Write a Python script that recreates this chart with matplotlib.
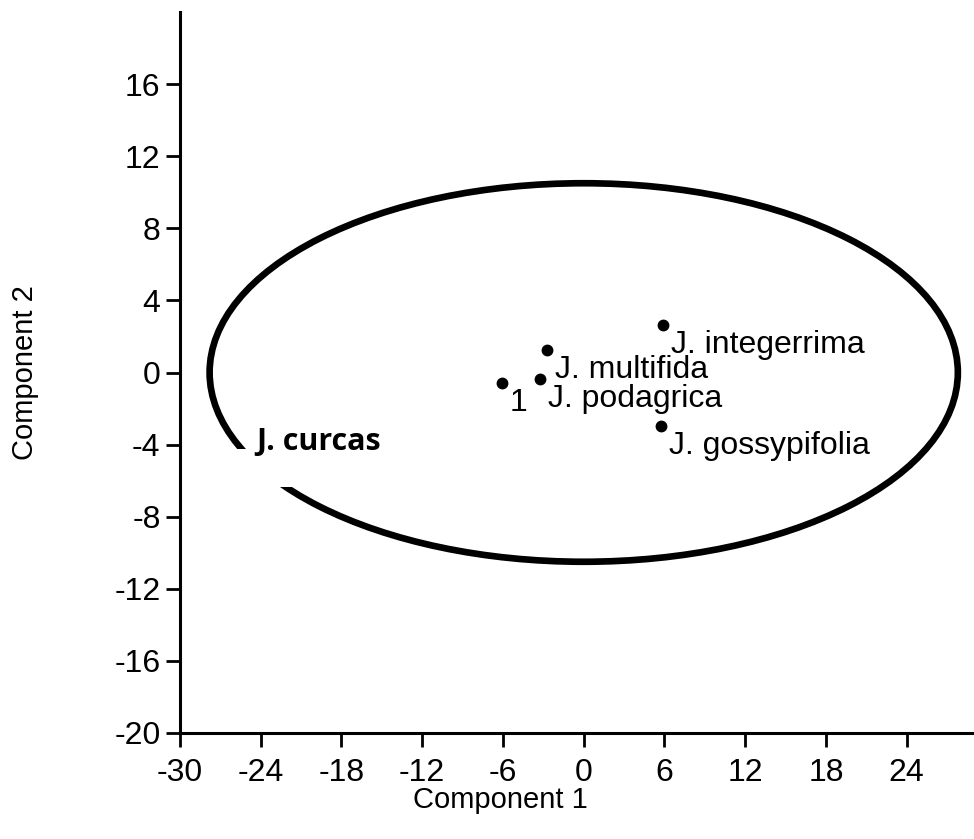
import matplotlib
matplotlib.use("Agg")
import matplotlib.pyplot as plt
from matplotlib.patches import Ellipse, Rectangle

# species scores on the first two components
labels = ["J. integerrima", "J. multifida", "J. podagrica", "1", "J. gossypifolia"]
comp1 = [5.86, -2.75, -3.27, -6.09, 5.72]
comp2 = [2.63, 1.25, -0.36, -0.58, -2.97]

# confidence ellipse (center, full width, full height)
ell_center = (0.0, 0.0)
ell_width = 55.6
ell_height = 21.0

# outlier label
curcas_label = "J. curcas"
curcas_pos = (-24.3, -4.3)

xticks = [-30, -24, -18, -12, -6, 0, 6, 12, 18, 24]
yticks = [-20, -16, -12, -8, -4, 0, 4, 8, 12, 16]

plt.rcParams['font.family'] = ['Liberation Sans', 'DejaVu Sans']
plt.rcParams['axes.unicode_minus'] = False

fig = plt.figure(figsize=(9.74, 8.39), dpi=100)
ax = fig.add_axes([180 / 974, 106 / 839, 794 / 974, 721 / 839])

ax.add_patch(Ellipse(ell_center, ell_width, ell_height, fill=False,
                     edgecolor='black', linewidth=4.8, zorder=2))

ax.plot(comp1, comp2, 'o', color='black', markersize=7.5, zorder=3)
for lab, x, y in zip(labels, comp1, comp2):
    ax.annotate(lab, (x, y), xytext=(6, -20), textcoords='offset points',
                ha='left', va='baseline', fontsize=23)

# white patch behind the J. curcas label (hides part of the ellipse)
ax.add_patch(Rectangle((curcas_pos[0] - 2.1, curcas_pos[1] - 2.05), 13.4, 2.1,
                       facecolor='white', edgecolor='none', zorder=4))
ax.text(curcas_pos[0], curcas_pos[1], curcas_label, family=['Open Sans', 'DejaVu Sans'],
        fontweight='bold', fontsize=22, ha='left', va='baseline', zorder=5)

ax.set_xlim(-30, 29)
ax.set_ylim(-20, 20)
ax.set_xticks(xticks)
ax.set_yticks(yticks)
ax.spines['top'].set_visible(False)
ax.spines['right'].set_visible(False)
for s in ['left', 'bottom']:
    ax.spines[s].set_linewidth(2.2)
ax.tick_params(axis='both', direction='out', length=10, width=2, labelsize=23)
ax.tick_params(axis='x', pad=8)
ax.tick_params(axis='y', pad=4)

ax.set_xlabel("Component 1", fontsize=21)
ax.set_ylabel("Component 2", fontsize=21)
ax.xaxis.set_label_coords(0.403, -0.093)
ax.xaxis.label.set_va('center')
ax.yaxis.set_label_coords(-0.195, 0.5)
ax.yaxis.label.set_va('center')

fig.savefig("out.png", dpi=100)
